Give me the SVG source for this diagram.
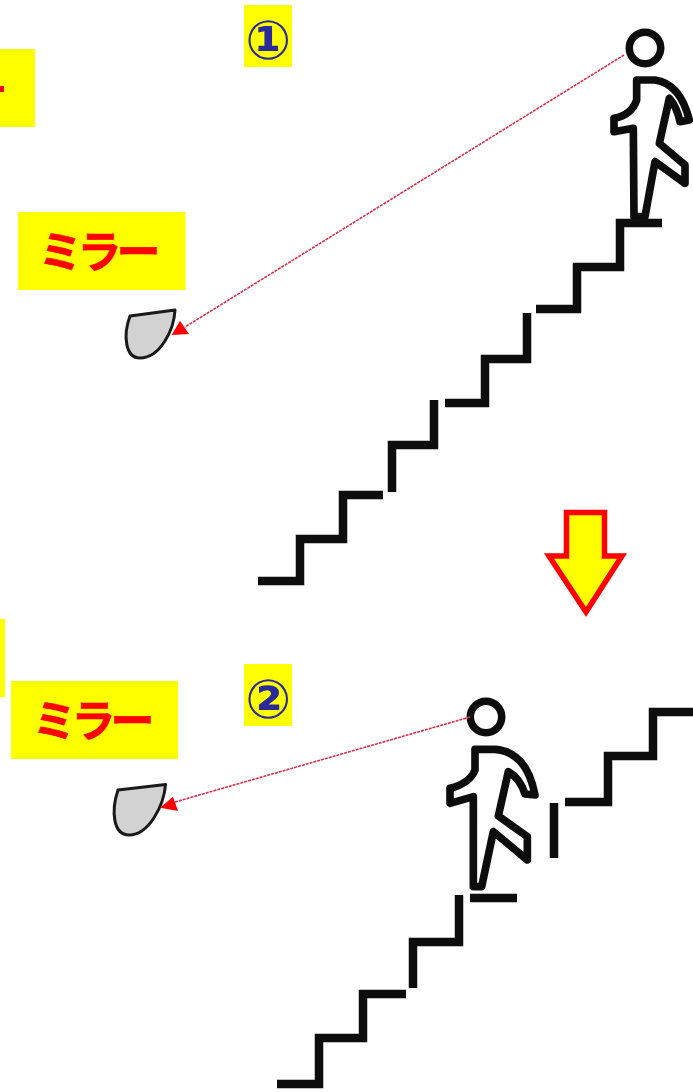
<svg xmlns="http://www.w3.org/2000/svg" width="693" height="1092" viewBox="0 0 693 1092">
<style>
.bg{fill:#ffff00}
.lbl{font-family:"Noto Sans CJK JP",sans-serif;font-weight:700;font-size:44px;letter-spacing:-5px;fill:#ff0000;stroke:#ff0000;stroke-width:.7;text-anchor:middle}
.num{font-family:"DejaVu Sans","Noto Sans CJK JP",sans-serif;font-weight:700;font-size:54px;fill:#2a2a9c;text-anchor:middle}
.st{fill:none;stroke:#111;stroke-width:8.500;stroke-linejoin:miter}
.pb{fill:#fff;stroke:#111;stroke-width:23;stroke-linejoin:round}
.head{fill:#fff;stroke:#111;stroke-width:7.500}
.mir{fill:#d2d2d2;stroke:#1a1a1a;stroke-width:3;stroke-linejoin:round}
.cn{fill:none;stroke:#d8304a;stroke-width:1.600;stroke-dasharray:3 1}
.ah{fill:#ff0000}
</style>
<defs><filter id="soft" x="-5%" y="-5%" width="110%" height="110%"><feGaussianBlur stdDeviation="0.7"/></filter></defs>
<rect width="693" height="1092" fill="#fff"/>
<g id="stairs-1" filter="url(#soft)">
<path class="st" d="M258 581H300V539H343V495H383"/>
<path class="st" d="M392 492V445H434V400"/>
<path class="st" d="M445 403H485V359H527V313"/>
<path class="st" d="M536 309H577V267H620V223H662"/>
</g>
<g id="stairs-2" filter="url(#soft)">
<path class="st" d="M277 1084H319V1038H363V994H406"/>
<path class="st" d="M413 988V942H459V895"/>
<path class="st" d="M470 898H517"/>
<path class="st" d="M554 803V858"/>
<path class="st" d="M565 802H608V756H653V712H693"/>
</g>
<g id="walker-1" filter="url(#soft)">
<path class="pb" transform="translate(590 20) scale(.3333)" d="M140 180L195 180Q270 190 298 300L270 305Q260 260 238 235L208 370L285 435L285 490L195 425L165 590L132 590L130 325L72 335L72 295Q125 285 140 240Z"/>
<circle class="head" cx="645" cy="48" r="15.700"/>
</g>
<g id="walker-2" filter="url(#soft)">
<path class="pb" transform="translate(440 690) scale(.3333)" d="M105 178L165 178Q260 185 285 315L255 312Q240 265 205 245L175 378L262 440L262 510L160 425L125 590L100 590L100 320L30 340L30 295Q90 280 105 240Z"/>
<circle class="head" cx="486" cy="717" r="15.700"/>
</g>
<g id="mirror-1"><path class="mir" d="M130 316L175 310C174 330 160 358 140 358C125 358 123 335 130 316Z"/></g>
<g id="mirror-2"><path class="mir" d="M118 790L165.500 784.500C164 805 149 835 129 835C113 835 111 811 118 790Z"/></g>
<g id="connectors">
<path class="cn" d="M624 55L185 327"/>
<path class="ah" d="M171.700 335L180 320.700L189 334Z"/>
<path class="cn" d="M470 717L175 802"/>
<path class="ah" d="M160 807.700L173 796.700L178 811Z"/>
</g>
<g id="label-clipped-1"><rect class="bg" x="0" y="49" width="35" height="78"/><rect x="0" y="86" width="4" height="6" fill="#f00"/></g>
<g id="label-clipped-2"><rect class="bg" x="0" y="619" width="5" height="78"/></g>
<g id="label-1"><rect class="bg" x="18" y="212" width="167.500" height="78"/><text class="lbl" x="97" y="268">ミラー</text></g>
<g id="label-2"><rect class="bg" x="11" y="681" width="167" height="78"/><text class="lbl" x="91" y="737">ミラー</text></g>
<g id="step-1"><rect class="bg" x="244" y="5" width="48" height="62"/><text class="num" x="268" y="59">①</text></g>
<g id="step-2"><rect class="bg" x="244" y="664" width="48" height="62"/><text class="num" x="268" y="718">②</text></g>
<g id="down-arrow"><path d="M566.500 512.500H604.500V556H622L586 612L549 556H566.500Z" fill="#ffff00" stroke="#ff0000" stroke-width="5.500"/></g>
</svg>
